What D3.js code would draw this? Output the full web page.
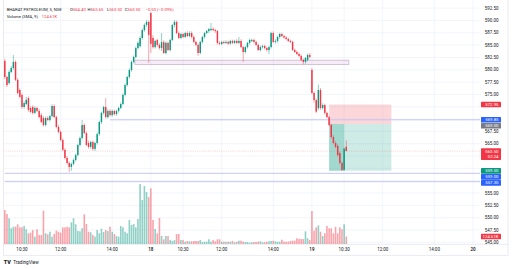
<!DOCTYPE html>
<html><head><meta charset="utf-8">
<script src="https://cdn.jsdelivr.net/npm/d3@7"></script>
<style>html,body{margin:0;padding:0;background:#fff;} svg{display:block;font-family:Roboto,"Noto Sans",sans-serif;}</style>
</head><body><svg id="c" width="512" height="269"></svg>
<script>
// ---- DATA (5-minute candles, [open, high, low, close]) ----
const session17 = [
[581.8,582.2,578.1,578.55],[578.55,578.8,576.5,576.9],[577.3,579.9,577.0,579.55],[579.55,580.8,579.3,580.35],
[580.35,583.0,580.0,581.6],[581.6,581.9,577.7,577.95],[577.95,578.3,575.0,575.3],[575.9,576.2,574.2,574.5],
[574.9,575.2,572.1,572.45],[572.45,573.6,572.1,573.25],[573.05,574.5,572.8,573.9],[574.25,574.6,571.5,571.85],
[572.25,572.6,571.2,571.45],[572.45,572.8,570.9,571.25],[571.25,572.6,571.0,572.25],[572.25,572.5,571.4,571.65],
[571.65,572.0,570.2,570.4],[570.8,571.2,569.2,569.4],[570.2,570.6,568.5,568.8],[568.8,570.5,568.5,570.2],
[570.2,570.6,569.6,569.8],[569.8,570.9,569.5,570.6],[570.6,573.0,570.3,572.65],[572.65,573.0,570.2,570.4],
[570.4,570.7,568.1,568.4],[568.4,568.8,567.1,567.4],[567.4,567.7,565.5,565.75],[565.75,566.1,563.5,563.75],
[563.75,564.1,561.8,562.1],[562.1,562.5,560.8,561.1],[561.1,561.4,559.25,560.3],[560.3,561.2,559.5,560.9],
[560.9,562.0,560.6,561.7],[561.7,563.0,561.4,562.7],[562.7,565.0,562.4,564.75],[564.75,566.5,564.4,566.15],
[566.15,569.8,565.8,568.8],[568.8,569.1,566.9,567.15],[567.15,567.5,564.5,564.75],[565.15,565.6,564.0,564.35],
[564.35,565.6,564.0,565.35],[565.35,565.7,563.6,563.95],[563.95,565.4,563.5,565.15],[565.15,567.3,564.8,566.95],
[566.95,569.7,566.6,569.4],[569.4,571.5,569.0,571.25],[571.25,572.7,570.9,572.45],[572.45,574.25,570.1,570.4],
[570.4,572.0,570.1,571.65],[571.65,572.0,570.5,570.8],[570.8,571.9,570.5,571.65],[571.65,571.9,570.7,571.0],
[571.0,571.9,570.7,571.65],[571.65,572.5,571.3,572.25],[572.25,573.4,572.0,573.05],[573.05,575.2,572.8,574.9],
[574.9,577.2,574.6,576.9],[576.9,578.8,576.6,578.55],[578.55,580.3,578.2,579.95],[579.95,581.9,579.6,581.6],
[581.6,582.9,581.3,582.6],[582.6,584.7,582.3,584.4],[584.4,585.8,584.1,585.45],[584.8,586.8,584.5,586.45],
[586.45,588.4,586.1,588.05],[588.05,589.4,587.7,589.1],[589.1,590.1,588.7,589.7],[589.7,590.0,581.4,587.05]
];
const session18 = [
[591.5,591.7,583.4,585.25],[586.45,587.0,584.3,584.6],[584.6,586.1,584.3,585.85],[586.05,586.3,584.7,585.05],
[585.05,585.4,584.1,584.4],[584.4,587.45,583.8,585.6],[585.6,586.0,583.2,583.4],[583.4,585.8,583.1,585.45],
[585.45,585.7,583.8,584.0],[584.0,586.3,583.7,586.05],[586.05,589.3,585.8,589.08],[589.08,590.1,588.6,589.7],
[589.7,590.0,587.2,587.45],[587.45,587.8,586.2,586.45],[586.45,587.5,586.2,587.25],[587.25,587.5,586.4,586.65],
[586.65,587.7,586.4,587.45],[587.45,587.8,586.6,586.85],[586.85,587.8,586.6,587.45],[587.45,587.8,586.3,586.65],
[586.65,587.0,585.4,585.65],[585.65,585.9,584.8,585.05],[585.05,585.3,582.8,583.4],[583.4,585.9,583.1,585.65],
[585.65,586.9,585.3,586.65],[586.65,587.7,586.3,587.45],[587.45,588.1,587.2,587.85],[587.85,588.5,587.5,588.25],
[588.05,589.5,587.8,588.3],[588.3,588.6,587.8,588.05],[588.05,588.3,587.5,587.85],[587.85,588.1,585.1,585.45],
[585.45,585.8,585.0,585.25],[585.25,585.9,585.0,585.65],[585.65,585.9,585.2,585.45],[585.45,586.0,585.2,585.65],
[585.65,585.9,585.0,585.3],[585.3,586.1,585.1,585.85],[585.85,586.1,585.2,585.45],[585.45,586.1,585.2,585.85],
[585.85,586.2,585.2,585.45],[585.45,586.65,585.2,585.85],[585.85,586.2,584.4,584.6],[584.6,584.9,581.6,583.6],
[583.6,584.9,583.3,584.6],[584.6,585.7,584.3,585.45],[585.45,586.3,585.1,586.05],[585.85,586.3,585.6,586.05],
[586.05,586.3,585.4,585.65],[585.65,585.9,584.8,585.05],[585.05,585.3,583.8,584.0],[584.0,584.9,583.7,584.6],
[584.6,585.1,584.3,584.8],[584.8,585.1,584.1,584.4],[584.4,584.7,583.7,584.0],[584.0,584.9,583.2,584.6],
[584.6,587.7,584.3,587.45],[587.45,587.8,585.4,585.65],[585.65,586.2,585.3,585.85],[585.85,586.9,585.5,586.65],
[586.65,587.5,586.3,587.25],[587.25,587.5,586.6,586.85],[586.85,587.1,586.3,586.55],[586.55,586.8,586.0,586.25],
[586.25,586.5,585.6,585.85],[585.85,586.1,585.4,585.65],[585.65,585.9,583.8,584.0],[584.0,584.3,583.4,583.6],
[583.6,583.9,583.0,583.2],[583.2,583.5,582.6,582.8],[582.8,583.1,581.7,582.0],[582.0,582.3,581.1,581.6],
[581.6,582.6,581.2,582.4],[582.0,583.3,581.7,583.0],[583.0,583.4,582.3,582.6]
];
const session19 = [
[579.95,580.4,575.0,575.3],[575.3,575.6,573.3,573.85],[573.85,574.2,571.2,571.5],[572.2,577.0,571.8,575.9],
[575.9,576.3,571.9,572.25],[572.25,573.2,571.9,572.85],[572.85,573.1,570.9,571.25],[571.25,571.5,570.2,570.4],
[570.4,570.7,568.5,568.8],[568.8,569.1,566.1,566.35],[566.35,566.7,564.9,565.15],[565.15,565.5,564.1,564.35],
[564.55,564.9,562.4,562.7],[563.1,563.4,560.8,561.1],[561.1,561.4,559.5,559.7],[559.7,564.2,559.5,564.0],
[564.40,565.65,563.50,563.50]
];
// volumes in thousands
const volume17 = [564,498,427,261,287,287,327,277,277,299,244,178,188,232,121,244,149,149,553,178,161,204,121,166,221,204,188,277,277,287,277,360,427,327,216,211,261,493,332,204,194,149,121,232,178,254,199,232,216,287,204,166,133,121,299,277,204,178,398,315,332,277,415,996,730,963,863,780];
const volume18 = [925,398,249,178,432,133,78,133,133,66,50,66,166,166,66,66,38,50,45,45,50,50,50,66,33,38,38,78,38,66,45,78,78,38,38,38,38,38,50,28,38,55,55,38,33,33,22,28,33,33,38,45,28,33,38,45,50,55,45,38,38,71,38,38,38,50,55,55,95,83,83,83,211,95,66];
const volume19 = [548,221,277,310,204,133,178,299,261,261,178,287,178,277,244,327,124.61];

// time axis: bar index of each tick label (future bars on the right are empty)
const tickIndex  = [8,26,50,68,83,101,125,143,158,176,200,218];
const tickLabels = ["10:30","12:00","14:00","18","10:30","12:00","14:00","19","10:30","12:00","14:00","20"];
const priceTicks = d3.range(545, 592.51, 2.5);

// drawings
const hLines = [{price:569.85, from:49}, {price:559.00, from:0}, {price:557.30, from:0}];
const zone = {top:581.95, bottom:581.1, from:60.6, to:160.2};
const position = {entry:569.00, stop:572.95, target:559.50, from:151, to:180, filledTo:158};
const lastPrice = 563.50;
const badges = [
  {price:572.95, text:"572.95", color:"#f23645"},
  {price:569.85, text:"569.85", color:"#2962ff"},
  {price:569.00, text:"569.00", color:"#787b86"},
  {price:563.50, text:"563.50", sub:"02:24", color:"#f23645"},
  {price:559.50, text:"559.50", color:"#089981"},
  {price:559.00, text:"559.00", color:"#2962ff"},
  {price:557.30, text:"557.30", color:"#2962ff"}
];

// ---- DRAW ----
const bars = session17.concat(session18, session19).map((d,i)=>({i,o:d[0],h:d[1],l:d[2],c:d[3]}));
const vols = volume17.concat(volume18, volume19);
bars.forEach((b,i)=>b.v=vols[i]);

const L=3.5, R=480, T=0, B=244.3;
const svg = d3.select("#c");
const x = d3.scaleLinear().domain([0,218]).range([4.8,473]);
const y = d3.scaleLinear().domain([545,592.5]).range([242.32,8.145]);
const yv = d3.scaleLinear().domain([0,1000]).range([244,183.8]);
const UP="#089981", DN="#f23645";

// grid
const g = svg.append("g");
g.selectAll(".hg").data(priceTicks).enter().append("line")
  .attr("x1",L).attr("x2",R).attr("y1",d=>y(d)).attr("y2",d=>y(d))
  .attr("stroke","#f0f3fa").attr("stroke-width",0.8);
g.selectAll(".vg").data(tickIndex).enter().append("line")
  .attr("x1",d=>x(d)).attr("x2",d=>x(d)).attr("y1",T).attr("y2",B)
  .attr("stroke","#f0f3fa").attr("stroke-width",0.8);

// frame
svg.append("rect").attr("x",L).attr("y",-2).attr("width",508-L).attr("height",255.3+2)
  .attr("fill","none").attr("stroke","#e0e3eb").attr("stroke-width",0.7);
svg.append("line").attr("x1",L).attr("x2",508).attr("y1",B).attr("y2",B)
  .attr("stroke","#e0e3eb").attr("stroke-width",0.7);

svg.append("clipPath").attr("id","pl").append("rect")
  .attr("x",L).attr("y",T).attr("width",R-L).attr("height",B-T);
const pl = svg.append("g").attr("clip-path","url(#pl)");

// position tool
pl.append("rect").attr("x",x(position.from)).attr("width",x(position.to)-x(position.from))
  .attr("y",y(position.stop)).attr("height",y(position.entry)-y(position.stop))
  .attr("fill","rgba(242,54,69,0.2)");
pl.append("rect").attr("x",x(position.from)).attr("width",x(position.to)-x(position.from))
  .attr("y",y(position.entry)).attr("height",y(position.target)-y(position.entry))
  .attr("fill","rgba(8,153,129,0.2)");
pl.append("rect").attr("x",x(position.from)).attr("width",x(position.filledTo)-x(position.from))
  .attr("y",y(position.entry)).attr("height",y(position.target)-y(position.entry))
  .attr("fill","rgba(8,153,129,0.22)");

// zone rectangle
pl.append("rect").attr("x",x(zone.from)).attr("width",x(zone.to)-x(zone.from))
  .attr("y",y(zone.top)).attr("height",y(zone.bottom)-y(zone.top))
  .attr("fill","rgba(156,39,176,0.09)").attr("stroke","#c2aec4").attr("stroke-width",0.7);

// horizontal lines
pl.selectAll(".hl").data(hLines).enter().append("line")
  .attr("x1",d=>Math.max(L,x(d.from))).attr("x2",R)
  .attr("y1",d=>y(d.price)).attr("y2",d=>y(d.price))
  .attr("stroke","#c3c5f3").attr("stroke-width",1);
pl.append("line").attr("x1",L).attr("x2",R).attr("y1",y(lastPrice)).attr("y2",y(lastPrice))
  .attr("stroke","rgba(242,54,69,0.45)").attr("stroke-width",0.5).attr("stroke-dasharray","1,1.2");

// volume
const bw = 1.6;
pl.selectAll(".vb").data(bars).enter().append("rect")
  .attr("x",d=>x(d.i)-bw/2).attr("width",bw)
  .attr("y",d=>yv(d.v)).attr("height",d=>yv(0)-yv(d.v))
  .attr("fill",d=>d.c>=d.o?"rgba(8,153,129,0.45)":"rgba(242,54,69,0.45)");

// candles
pl.selectAll(".wk").data(bars).enter().append("line")
  .attr("x1",d=>x(d.i)).attr("x2",d=>x(d.i)).attr("y1",d=>y(d.h)).attr("y2",d=>y(d.l))
  .attr("stroke",d=>d.c>=d.o?UP:DN).attr("stroke-width",0.45);
const cw = 1.45;
pl.selectAll(".bd").data(bars).enter().append("rect")
  .attr("x",d=>x(d.i)-cw/2).attr("width",cw)
  .attr("y",d=>y(Math.max(d.o,d.c)))
  .attr("height",d=>Math.max(0.5,Math.abs(y(d.o)-y(d.c))))
  .attr("fill",d=>d.c>=d.o?UP:DN);

// badges layout (push down to avoid overlap)
const bh = 5.6;
const lay = badges.map(b=>({...b, h:b.sub?11.6:bh, top:y(b.price)-bh/2})).sort((a,b)=>a.top-b.top);
for(let k=1;k<lay.length;k++){ const p=lay[k-1]; if(lay[k].top<p.top+p.h+0.4) lay[k].top=p.top+p.h+0.4; }
const lastBar = bars[bars.length-1];
lay.push({text:d3.format(".2f")(lastBar.v)+"K", color:"#f23645", h:bh, top:yv(lastBar.v)-bh/2});

// price axis labels
const fmt = d3.format(".2f");
const ax = svg.append("g").attr("font-size","4.5px").attr("fill","#131722").attr("text-anchor","end");
ax.selectAll("text").data(priceTicks.filter(p=>!lay.some(b=>y(p)>b.top-2.2 && y(p)<b.top+b.h+2.2))).enter()
  .append("text").attr("x",498.5).attr("y",d=>y(d)).attr("dy","0.36em").text(d=>fmt(d));

const bg = svg.append("g");
lay.forEach(b=>{
  bg.append("rect").attr("x",481).attr("y",b.top).attr("width",20).attr("height",b.h)
    .attr("rx",0.6).attr("fill",b.color);
  bg.append("text").attr("x",498.5).attr("y",b.top+bh/2).attr("dy","0.36em")
    .attr("text-anchor","end").attr("font-size","4.3px").attr("fill","#fff").text(b.text);
  if(b.sub) bg.append("text").attr("x",498.5).attr("y",b.top+bh/2+5.8).attr("dy","0.36em")
    .attr("text-anchor","end").attr("font-size","4.3px").attr("fill","#fff").text(b.sub);
});

// time axis
svg.append("g").selectAll("text").data(tickIndex).enter().append("text")
  .attr("x",d=>x(d)).attr("y",251.2).attr("text-anchor","middle")
  .attr("font-size","4.5px").attr("fill","#131722")
  .attr("font-weight",(d,i)=>/^\d\d$/.test(tickLabels[i])?"600":"400")
  .text((d,i)=>tickLabels[i]);

// legend
const lg = svg.append("g").attr("font-size","4.2px");
const last = session19[session19.length-1];
lg.append("text").attr("x",6.7).attr("y",10.9).attr("fill","#131722").text("BHARAT PETROLEUM, 5, NSE");
const ohlc = [["O",last[0],70],["H",last[1],87.5],["L",last[2],107],["C",last[3],124.8]];
ohlc.forEach(([k,v,px])=>{
  const t=lg.append("text").attr("x",px).attr("y",10.9);
  t.append("tspan").attr("fill","#131722").text(k);
  t.append("tspan").attr("fill","#f23645").text(fmt(v));
});
lg.append("text").attr("x",145.5).attr("y",10.9).attr("fill","#f23645").text("\u22120.50 (\u22120.09%)");
lg.append("text").attr("x",6.7).attr("y",17.6).attr("fill","#131722").text("Volume (SMA, 9)");
lg.append("text").attr("x",41.7).attr("y",17.6).attr("fill","#f23645").text(fmt(lastBar.v)+"K");

// watermark
svg.append("text").attr("x",3.8).attr("y",263.6).attr("font-size","5.4px").attr("font-weight","900")
  .attr("fill","#131722").text("TV");
svg.append("text").attr("x",13.3).attr("y",263.5).attr("font-size","4.6px").attr("fill","#131722").text("TradingView");
</script></body></html>
